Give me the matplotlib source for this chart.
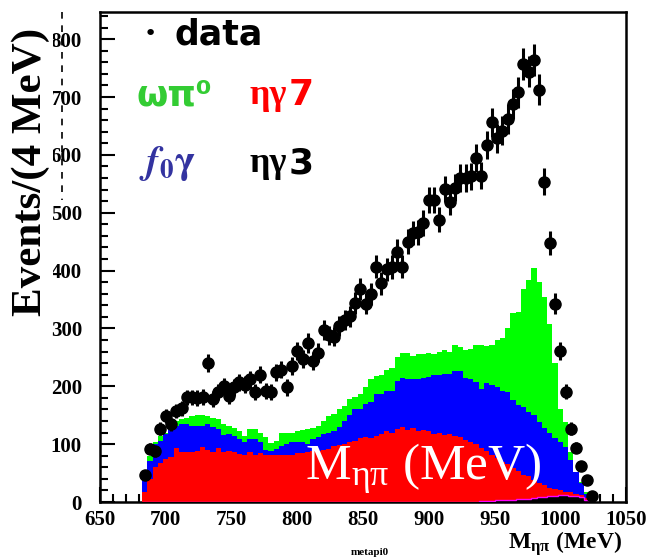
import numpy as np
import matplotlib
matplotlib.use("Agg")
import matplotlib.pyplot as plt
from matplotlib.lines import Line2D
from matplotlib.ticker import MultipleLocator

plt.rcParams['mathtext.fontset'] = 'stix'

# binning: 4 MeV bins starting at 682 MeV
bin_lo = 682
bin_width = 4

# data points (events per bin)
data = [47, 92, 88, 127, 149, 134, 157, 162, 181, 181, 180, 182, 241, 178, 190, 200,
        183, 198, 207, 203, 212, 190, 220, 192, 190, 224, 229, 198, 235, 261, 247, 275,
        244, 258, 297, 288, 286, 304, 315, 321, 344, 368, 343, 360, 407, 378, 402, 406,
        433, 407, 450, 465, 466, 482, 522, 522, 488, 541, 519, 543, 560, 560, 563, 594,
        564, 617, 656, 629, 642, 662, 688, 708, 757, 744, 764, 713, 554, 448, 343, 261,
        191, 127, 94, 62, 38, 11]

# stacked MC, cumulative tops (omega pi0 on top of everything)
stack_omega = [40, 79, 103, 114, 120, 132, 140, 143, 146, 148, 150, 150, 149, 146, 143, 134,
               132, 128, 123, 114, 126, 126, 120, 112, 102, 106, 120, 120, 120, 122, 124, 126,
               128, 132, 140, 149, 152, 160, 166, 178, 182, 186, 198, 212, 218, 220, 229, 232,
               250, 258, 258, 252, 255, 256, 258, 256, 260, 262, 260, 272, 268, 262, 264, 272,
               272, 270, 272, 280, 284, 300, 326, 328, 368, 384, 404, 380, 354, 308, 240, 160,
               138, 86, 52, 34, 17, 5]
stack_f0g = [37, 71, 100, 106, 117, 126, 132, 134, 134, 132, 132, 132, 134, 129, 126, 116,
             117, 114, 109, 103, 109, 109, 103, 90, 88, 92, 96, 100, 103, 103, 103, 100,
             109, 112, 118, 120, 122, 130, 140, 150, 160, 160, 170, 172, 186, 186, 192, 192,
             210, 215, 212, 212, 212, 214, 216, 220, 220, 221, 222, 226, 226, 214, 212, 208,
             195, 205, 203, 198, 192, 190, 176, 168, 164, 155, 150, 138, 128, 120, 110, 104,
             95, 72, 52, 33, 14, 5]
stack_etag7 = [18, 40, 60, 68, 74, 77, 94, 86, 86, 87, 88, 95, 90, 86, 94, 86,
               88, 86, 83, 82, 86, 82, 85, 81, 81, 82, 82, 82, 82, 84, 85, 86,
               88, 88, 90, 92, 96, 98, 100, 104, 106, 110, 112, 110, 114, 118, 122, 120,
               126, 129, 124, 128, 122, 125, 122, 118, 120, 116, 118, 114, 112, 108, 104, 100,
               94, 88, 82, 76, 69, 66, 58, 54, 47, 45, 38, 33, 30, 24, 22, 20,
               18, 17, 14, 12, 7, 3]
stack_etag3 = [0] * 64 + [1, 2, 2, 3, 3, 4, 4, 5, 5, 6, 7, 8, 9, 10, 11, 12,
                          12, 11, 10, 8, 4, 2]

edges = bin_lo + bin_width * np.arange(len(data) + 1)
centers = edges[:-1] + bin_width / 2

fig = plt.figure(figsize=(6.46, 5.60), dpi=100)
ax = fig.add_axes([100 / 646, 58 / 560, 526 / 646, 490 / 560])

ax.stairs(stack_omega, edges, fill=True, color='#00ff00', zorder=1)
ax.stairs(stack_f0g, edges, fill=True, color='#0000ff', zorder=2)
ax.stairs(stack_etag7, edges, fill=True, color='#ff0000', zorder=3)
ax.stairs(stack_etag3, edges, fill=True, color='black', zorder=4)
ax.stairs(stack_etag3, edges, color='#ff00ff', lw=1.0, zorder=5)

ax.errorbar(centers, data, yerr=np.sqrt(data), fmt='o', color='black',
            ms=8, elinewidth=2.2, capsize=0, zorder=10)

ax.set_xlim(650, 1050)
ax.set_ylim(0, 847)
ax.xaxis.set_major_locator(MultipleLocator(50))
ax.xaxis.set_minor_locator(MultipleLocator(10))
ax.yaxis.set_major_locator(MultipleLocator(100))
ax.yaxis.set_minor_locator(MultipleLocator(20))
ax.tick_params(which='both', direction='in', top=False, right=False, width=1.5)
ax.tick_params(which='major', length=11)
ax.tick_params(which='minor', length=6)
ax.tick_params(axis='y', pad=13)
ax.tick_params(axis='x', pad=6)
for lab in ax.get_xticklabels() + ax.get_yticklabels():
    lab.set_fontfamily('Liberation Serif')
    lab.set_fontweight('bold')
    lab.set_fontsize(15)
for sp in ax.spines.values():
    sp.set_linewidth(1.8)

# big white label inside the plot
fig.text(305 / 646, 1 - 480 / 560, r'M$\mathregular{_{\eta\pi}}$ (MeV)', color='white',
         fontsize=37, family='Liberation Serif', zorder=20)

# legend-like labels
ax.text(0.082, 0.955, '•', transform=ax.transAxes, fontsize=16, va='center', zorder=20)
ax.text(0.142, 0.955, 'data', transform=ax.transAxes, fontsize=25, fontweight='bold',
        va='center', family='DejaVu Sans', zorder=20)
ax.text(0.07, 0.83, 'ωπ⁰', transform=ax.transAxes, fontsize=26, fontweight='bold',
        color='#33cc33', va='center', family='DejaVu Sans', zorder=20)
ax.text(0.285, 0.83, 'ηγ', transform=ax.transAxes, fontsize=26, fontweight='bold',
        color='#ff0000', va='center', family='Liberation Serif', zorder=20)
ax.text(0.358, 0.83, '7', transform=ax.transAxes, fontsize=26, fontweight='bold',
        color='#ff0000', va='center', family='DejaVu Sans', zorder=20)
ax.text(0.075, 0.69, r'$\mathbfit{f}_{\mathbf{0}}\mathbf{\gamma}$', transform=ax.transAxes,
        fontsize=28, color='#3333a0', va='center', zorder=20)
ax.text(0.285, 0.69, 'ηγ', transform=ax.transAxes, fontsize=26, fontweight='bold',
        color='black', va='center', family='Liberation Serif', zorder=20)
ax.text(0.358, 0.69, '3', transform=ax.transAxes, fontsize=26, fontweight='bold',
        color='black', va='center', family='DejaVu Sans', zorder=20)

# axis titles
fig.text(31 / 646, 1 - 172 / 560, 'Events/(4 MeV)', rotation=90, ha='center', va='center',
         fontsize=31, fontweight='bold', family='Liberation Serif',
         bbox=dict(facecolor='white', edgecolor='none', pad=2), zorder=30)
fig.add_artist(Line2D([62 / 646, 62 / 646], [1 - 12 / 560, 1 - 200 / 560],
                      color='black', lw=1.2, ls=(0, (4, 4))))
fig.text(508 / 646, 1 - 549 / 560, r'M$\mathregular{_{\eta\pi}}$ (MeV)', fontsize=17,
         fontweight='bold', family='Liberation Serif')
fig.text(370 / 646, 1 - 555 / 560, 'metapi0', fontsize=8, fontweight='bold',
         family='Liberation Serif', ha='center')

fig.savefig('out.png', dpi=100)
